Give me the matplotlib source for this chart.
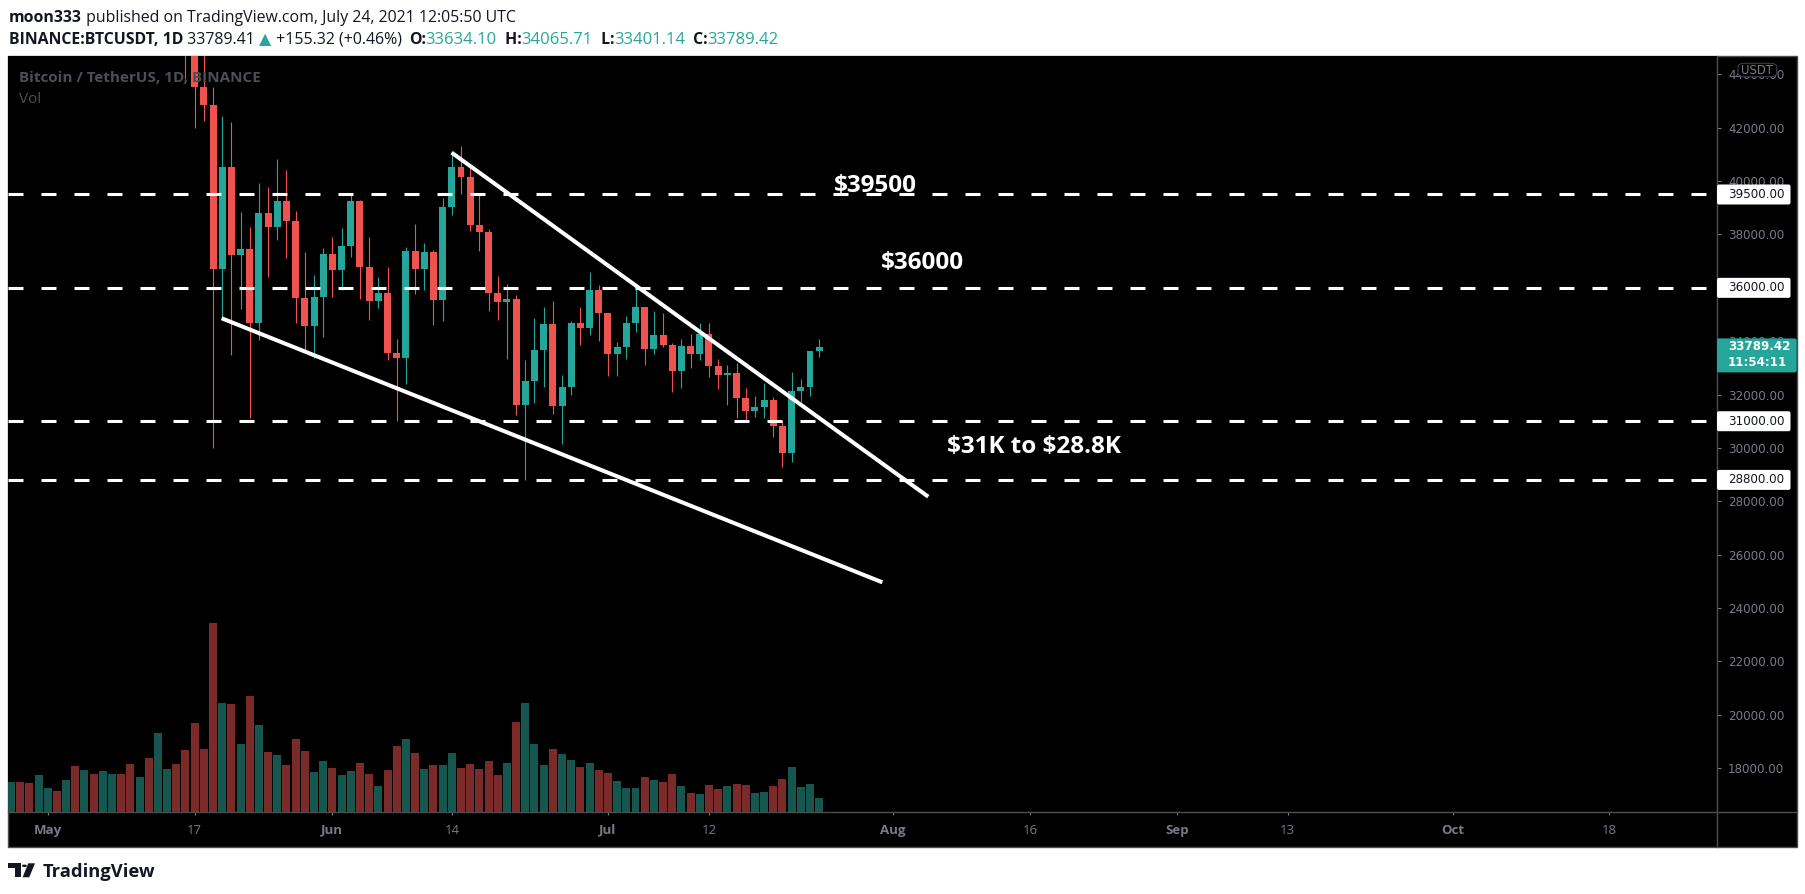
import matplotlib
matplotlib.use('Agg')
import matplotlib.pyplot as plt
import matplotlib.dates as mdates
from matplotlib.patches import Rectangle, Circle, Polygon, FancyBboxPatch
from matplotlib.lines import Line2D
import pandas as pd

# ---------------- data ----------------
dates = pd.date_range('2021-04-27', '2021-07-24', freq='D')
opens = [54001, 55011, 54847, 53556, 57694, 57800, 56578, 57170, 53200, 57436,
         56393, 57314, 58862, 58240, 55816, 56670, 49631, 49670, 49841, 46762,
         46431, 43538, 42849, 36690, 40530, 37250, 37460, 34700, 38800, 38290,
         39256, 38506, 35619, 34570, 35656, 37269, 36670, 37569, 39256, 36800,
         35500, 35797, 33552, 33380, 37389, 36693, 37344, 35546, 39020, 40516,
         40144, 38349, 38092, 35820, 35483, 35600, 31608, 32509, 33678, 34663,
         31584, 32283, 34700, 34494, 35911, 35045, 33504, 33786, 34669, 35286,
         33690, 34220, 33862, 32875, 33815, 33502, 34259, 33086, 32729, 32820,
         31880, 31383, 31520, 31778, 30839, 29790, 32144, 32287, 33634.10]
highs = [55460, 56428, 55195, 58000, 58448, 57911, 58981, 57200, 57911, 58360,
         58650, 59500, 59300, 59592, 56862, 57939, 51367, 51483, 50700, 49800,
         46650, 45800, 43546, 42451, 42200, 38829, 38270, 39920, 39791, 40841,
         40411, 38877, 37338, 36488, 37499, 37896, 38225, 39476, 39289, 37912,
         36400, 36800, 34068, 37530, 38392, 37680, 37437, 39380, 41064, 41330,
         40528, 39560, 38200, 36457, 36137, 35750, 33298, 34881, 35298, 35500,
         32730, 34749, 35297, 36600, 36100, 35057, 33977, 34945, 35967, 35293,
         35118, 35059, 33918, 34100, 34262, 34666, 34679, 33340, 33114, 33185,
         32249, 31955, 32435, 31899, 31063, 32859, 32595, 33650, 34065.71]
lows = [53222, 53813, 52330, 53068, 57052, 56035, 56435, 53000, 52900, 55200,
        55241, 56900, 56235, 53400, 54370, 48600, 46000, 48800, 46555, 43825,
        42001, 42250, 30000, 34850, 33488, 35200, 31111, 34031, 36419, 37800,
        37134, 34684, 33632, 33380, 34154, 35667, 35920, 37170, 35567, 34800,
        35258, 33300, 31000, 32396, 35783, 35936, 34600, 34757, 38730, 39506,
        38116, 37365, 35129, 34803, 33336, 31251, 28805, 31683, 32286, 31275,
        30151, 32000, 33862, 34225, 34017, 32711, 32699, 33316, 34357, 33125,
        33532, 33777, 32077, 32261, 33005, 33307, 32658, 32202, 31600, 31133,
        31021, 31164, 31108, 30407, 29278, 29482, 31708, 31946, 33401.14]
closes = [55011, 54847, 53556, 57694, 57800, 56578, 57170, 53200, 57436, 56393,
          57314, 58862, 58240, 55816, 56670, 49631, 49670, 49841, 46762, 46431,
          43538, 42849, 36690, 40530, 37250, 37460, 34700, 38800, 38290, 39256,
          38506, 35619, 34570, 35656, 37269, 36670, 37569, 39256, 36800, 35500,
          35797, 33552, 33380, 37389, 36693, 37344, 35546, 39020, 40516, 40144,
          38349, 38092, 35820, 35483, 35600, 31608, 32509, 33678, 34663, 31584,
          32283, 34700, 34494, 35911, 35045, 33504, 33786, 34669, 35286, 33690,
          34220, 33862, 32875, 33815, 33502, 34259, 33086, 32729, 32820, 31880,
          31383, 31520, 31778, 30839, 29790, 32144, 32287, 33634, 33789.42]
volumes = [55.8, 55.8, 53.9, 68.8, 44.6, 39.1, 59.5, 85.6, 78.1, 70.7,
           76.3, 70.7, 70.7, 89.3, 65.1, 100.4, 146.9, 80.0, 89.3, 115.3,
           165.5, 117.2, 351.5, 202.7, 200.9, 126.5, 215.8, 161.8, 111.6, 106.0,
           87.4, 135.8, 113.5, 74.4, 94.9, 81.8, 68.8, 76.3, 91.1, 70.7,
           48.4, 78.1, 122.8, 135.8, 109.7, 80.0, 87.4, 87.4, 109.7, 81.8,
           89.3, 80.0, 94.9, 68.8, 91.1, 167.4, 202.7, 126.5, 87.4, 117.2,
           107.9, 96.7, 83.7, 91.1, 78.1, 72.5, 57.7, 44.6, 44.6, 65.1,
           59.5, 55.8, 70.7, 48.4, 35.3, 33.5, 50.2, 42.8, 48.4, 52.1,
           50.2, 35.3, 37.2, 48.4, 61.4, 83.7, 46.5, 52.1, 26.0]

levels = [39500, 36000, 31000, 28800]
level_texts = ['$39500', '$36000', '$31K to $28.8K']
upper_line = [('2021-06-13 23:30', 41070), ('2021-08-04 21:00', 28170)]
lower_line = [('2021-05-19 22:30', 34860), ('2021-07-30 21:00', 24960)]
last_price = 33789.42
countdown = '11:54:11'
ytick_vals = list(range(18000, 46000, 2000))
xtick_dates = ['2021-05-01', '2021-05-17', '2021-06-01', '2021-06-14', '2021-07-01',
               '2021-07-12', '2021-08-01', '2021-08-16', '2021-09-01', '2021-09-13',
               '2021-10-01', '2021-10-18']
xtick_labels = ['May', '17', 'Jun', '14', 'Jul', '12', 'Aug', '16', 'Sep', '13', 'Oct', '18']
month_labels = {'May', 'Jun', 'Jul', 'Aug', 'Sep', 'Oct'}

# ---------------- style ----------------
UP, DOWN = '#26a69a', '#ef5350'
VUP, VDOWN = '#15574f', '#7b2a2a'
AXC = '#787b86'
FRAME = '#4e4e4e'
DARK = '#131722'
FONT = ['Open Sans', 'DejaVu Sans']
plt.rcParams['font.family'] = FONT
plt.rcParams['text.parse_math'] = False

W, H = 1805, 894
fig = plt.figure(figsize=(W / 100, H / 100), dpi=100)
fig.patch.set_facecolor('white')


def fx(p):
    return p / W


def fy(p):
    return 1 - p / H


L, R, T, B = 8.3, 1716.5, 55.7, 812.0
RE, BE = 1796.7, 847.3

fig.add_artist(Rectangle((fx(L), fy(BE)), fx(RE) - fx(L), fy(T) - fy(BE),
                         transform=fig.transFigure, fc='black', ec=FRAME, lw=1.0, zorder=0))

rect = [fx(L), fy(B), fx(R) - fx(L), fy(T) - fy(B)]
vax = fig.add_axes(rect)
vax.set_facecolor('black')
ax = fig.add_axes(rect, sharex=vax)
ax.patch.set_visible(False)

x = mdates.date2num(dates)
x0 = mdates.date2num(pd.Timestamp('2021-05-01'))
vax.set_xlim(x0 - 4.29, x0 + 181.7)

# volume
vcols = [VUP if c >= o else VDOWN for o, c in zip(opens, closes)]
vax.bar(x, volumes, width=0.87, color=vcols, linewidth=0)
vax.set_ylim(0, max(volumes) * 4.0)
vax.set_yticks([])
vax.tick_params(axis='x', which='both', length=0, labelbottom=False)
for s in vax.spines.values():
    s.set_visible(False)

# candles
ccols = [UP if c >= o else DOWN for o, c in zip(opens, closes)]
ax.vlines(x, lows, highs, colors=ccols, linewidth=0.8, zorder=2)
bottoms = [min(o, c) for o, c in zip(opens, closes)]
heights = [max(abs(c - o), 15) for o, c in zip(opens, closes)]
ax.bar(x, heights, bottom=bottoms, width=0.76, color=ccols, linewidth=0, zorder=3)
ax.set_ylim(16350, 44703)

# dashed levels
for lv in levels:
    ax.axhline(lv, color='white', lw=2.2, linestyle=(0, (4.9, 5.9)), zorder=4)

# trend lines
for seg in (upper_line, lower_line):
    xs = [mdates.date2num(pd.Timestamp(d)) for d, _ in seg]
    ys = [p for _, p in seg]
    ax.plot(xs, ys, color='white', lw=2.9, solid_capstyle='butt', zorder=5)

# annotations
ann_pos = [('2021-07-30 04:00', 39818), ('2021-08-04 07:00', 36932), ('2021-08-16 08:00', 30034)]
for (d, p), s in zip(ann_pos, level_texts):
    ax.text(mdates.date2num(pd.Timestamp(d)), p, s, color='white', fontsize=17.5,
            fontweight='bold', ha='center', va='center', zorder=6, parse_math=False)

# axes styling
for s in ax.spines.values():
    s.set_visible(False)
ax.yaxis.tick_right()
ax.set_yticks(ytick_vals)
ax.set_yticklabels([f'{v:.2f}' for v in ytick_vals])
ax.tick_params(axis='y', colors=AXC, labelcolor=AXC, length=2.7, width=0.8,
               pad=5.6, labelsize=8.6, direction='out')
for t in ax.get_yticklabels():
    t.set_fontfamily(['DejaVu Sans'])

ax.set_xticks([mdates.date2num(pd.Timestamp(d)) for d in xtick_dates])
ax.set_xticklabels(xtick_labels)
ax.tick_params(axis='x', colors=AXC, labelcolor=AXC, length=2.5, width=0.8,
               pad=6.0, labelsize=9.5, direction='out')
for t in ax.get_xticklabels():
    if t.get_text() in month_labels:
        t.set_fontweight('bold')

# frame lines
fig.add_artist(Line2D([fx(L), fx(RE)], [fy(B), fy(B)], transform=fig.transFigure,
                      color=FRAME, lw=1.0, zorder=10))
fig.add_artist(Line2D([fx(R), fx(R)], [fy(T), fy(BE)], transform=fig.transFigure,
                      color=FRAME, lw=1.0, zorder=10))

# price labels on right axis
fig.canvas.draw()
TX = R + 11.5
for lv in levels:
    py = ax.transData.transform((x0, lv))[1]
    fig.add_artist(FancyBboxPatch((R + 0.5, py - 10), 73.5, 20,
                                  boxstyle='round,pad=0,rounding_size=2',
                                  transform=None, fc='white', ec='none', zorder=11))
    fig.text(fx(TX), py / H, f'{lv:.2f}', ha='left', va='center', fontsize=8.6,
             color=DARK, family=['DejaVu Sans'], zorder=13)

py = ax.transData.transform((x0, last_price))[1]
fig.add_artist(FancyBboxPatch((R + 0.5, py - 25.6), RE - R - 0.5, 34,
                              boxstyle='round,pad=0,rounding_size=2',
                              transform=None, fc=UP, ec='none', zorder=11))
fig.text(fx(TX), py / H, f'{last_price:.2f}', ha='left', va='center', fontsize=8.6,
         color='white', fontweight='bold', family=['DejaVu Sans'], zorder=13)
fig.text(fx(TX), (py - 16) / H, countdown, ha='left', va='center', fontsize=8.6,
         color='white', fontweight='bold', family=['DejaVu Sans'], zorder=13)

# USDT badge
fig.add_artist(FancyBboxPatch((fx(1738), fy(76.7)), fx(1776.7) - fx(1738), fy(63.3) - fy(76.7),
                              boxstyle='round,pad=0,rounding_size=0.004',
                              transform=fig.transFigure, fc='black', ec='#3a3d46', lw=0.8, zorder=11))
fig.text(fx(1757.3), fy(70), 'USDT', color=AXC, fontsize=8.4, ha='center', va='center',
         family=['DejaVu Sans'], zorder=12)

# legend in pane
fig.text(fx(19.3), fy(82.3), 'Bitcoin / TetherUS, 1D, BINANCE', color='#4d4f56',
         fontsize=11, fontweight='bold', ha='left', va='baseline', zorder=12)
fig.text(fx(19.3), fy(103.3), 'Vol', color='#4d4f56', fontsize=11,
         ha='left', va='baseline', zorder=12)

# header
renderer = fig.canvas.get_renderer()


def chain(xpx, base, parts, size):
    xx = xpx
    for txt, col, wt, gap, sz in parts:
        xx += gap
        t = fig.text(fx(xx), fy(base), txt, color=col, fontweight=wt, fontsize=sz or size,
                     ha='left', va='baseline', family=FONT)
        xx += t.get_window_extent(renderer).width


chain(9, 22.0, [('moon333', DARK, 'bold', 0, None),
                (' published on TradingView.com, July 24, 2021 12:05:50 UTC', DARK, 'normal', 0, None)],
      11.4)
chain(9, 43.8, [('BINANCE:BTCUSDT, 1D', DARK, 'bold', 0, None),
                (' 33789.41 ', DARK, 'normal', 0, None),
                ('\u25B2', UP, 'normal', 0, None),
                (' +155.32 (+0.46%) ', DARK, 'normal', 0, None),
                ('O:', DARK, 'bold', 3, None), ('33634.10', UP, 'normal', 0, 12.0),
                (' H:', DARK, 'bold', 4, None), ('34065.71', UP, 'normal', 0, 12.0),
                (' L:', DARK, 'bold', 4, None), ('33401.14', UP, 'normal', 0, 12.0),
                (' C:', DARK, 'bold', 4, None), ('33789.42', UP, 'normal', 0, 12.0)], 11.4)

# TradingView logo
fig.add_artist(Polygon([(fx(8.3), fy(863.3)), (fx(20.7), fy(863.3)), (fx(20.7), fy(877.3)),
                        (fx(15.0), fy(877.3)), (fx(15.0), fy(868.3)), (fx(8.3), fy(868.3))],
                       closed=True, transform=fig.transFigure, fc=DARK, ec='none'))
fig.add_artist(Circle((fx(24.4), fy(865.8)), 2.5 / W, transform=fig.transFigure, fc=DARK, ec='none'))
fig.add_artist(Polygon([(fx(28.3), fy(863.3)), (fx(35.0), fy(863.3)), (fx(29.2), fy(877.3)),
                        (fx(22.6), fy(877.3))], closed=True, transform=fig.transFigure,
                       fc=DARK, ec='none'))
fig.text(fx(42.7), fy(877.3), 'TradingView', color=DARK, fontsize=13.2, fontweight='bold',
         ha='left', va='baseline')

fig.savefig('out.png', dpi=100, facecolor='white')
